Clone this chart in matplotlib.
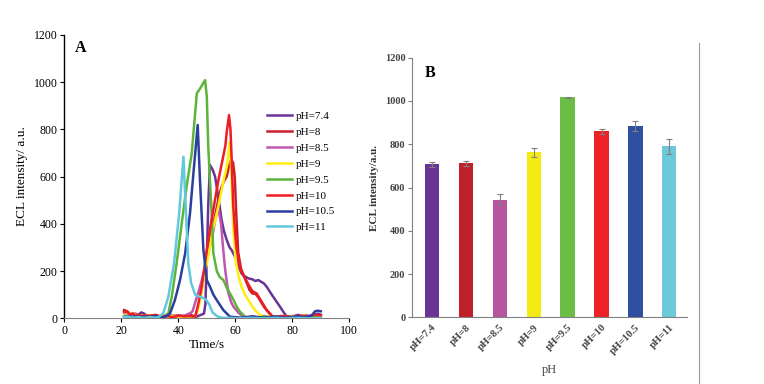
import matplotlib
matplotlib.use("Agg")
from matplotlib import pyplot as plt
from matplotlib.lines import Line2D

plt.rcParams['font.family'] = ['Liberation Serif', 'DejaVu Serif']

# ---- panel A: ECL traces ----
labels = ['pH=7.4', 'pH=8', 'pH=8.5', 'pH=9', 'pH=9.5', 'pH=10', 'pH=10.5', 'pH=11']
line_colors = ['#6A3398', '#C8202A', '#C056AE', '#FFEE10', '#5DB43A', '#EE1C24', '#2B3FA0', '#62C8DC']

t74 = [21, 22, 23, 24, 25, 26, 27, 28, 29, 30, 31, 32, 34, 36, 38, 40, 42, 43, 44, 45, 46, 47, 48, 49,
       49.5, 50, 50.5, 51.1, 52, 52.9, 54, 55.2, 56, 57, 58, 58.7, 59.5, 60.5, 61.3, 62.2, 63, 64.6, 66,
       67, 68.1, 69, 70, 71, 72, 73.3, 74.5, 75.7, 77, 78, 79, 80, 81, 82, 83, 84, 85, 86, 87, 88, 89, 90]
y74 = [30, 25, 15, 20, 10, 15, 25, 20, 10, 8, 12, 8, 5, 10, 8, 12, 10, 15, 20, 10, 5, 10, 15, 20,
       60, 250, 480, 649, 630, 600, 515, 416, 370, 331, 300, 289, 270, 247, 215, 190, 180, 169, 165,
       158, 162, 155, 148, 134, 115, 91, 70, 49, 25, 7, 5, 8, 10, 15, 10, 8, 12, 8, 10, 15, 20, 15]

t8 = [21, 22, 23, 24, 25, 26, 27, 28, 30, 32, 34, 36, 38, 40, 42, 44, 45, 46, 47, 48, 49, 50, 51, 52,
      53, 54, 55, 56, 57, 57.7, 58.5, 59.2, 59.8, 60.3, 61, 62, 63, 64, 65, 66, 67, 68, 69, 70, 71, 72,
      73, 74, 76, 78, 80, 82, 84, 86, 88, 90]
y8 = [35, 30, 20, 15, 20, 10, 15, 10, 12, 8, 10, 5, 12, 8, 10, 5, 5, 10, 50, 110, 180, 250, 320, 380,
      440, 500, 550, 580, 600, 640, 670, 660, 600, 450, 280, 210, 180, 150, 120, 105, 105, 90, 70, 50, 35, 20,
      8, 5, 8, 5, 10, 8, 12, 5, 15, 10]

t85 = [21, 22, 23, 24, 25, 26, 28, 30, 32, 34, 36, 38, 40, 42, 44, 45, 46, 47, 48, 49, 50, 51, 52, 53,
       54, 55, 55.7, 56.4, 57.5, 58.5, 59.3, 60, 61, 62, 63, 64, 66, 68, 70, 72, 74, 76, 78, 80, 82, 84,
       86, 88, 90]
y85 = [10, 15, 10, 20, 15, 10, 12, 8, 10, 5, 8, 10, 5, 10, 20, 30, 70, 110, 150, 200, 250, 300, 350, 420,
       470, 400, 300, 210, 110, 70, 50, 40, 25, 15, 8, 5, 8, 5, 10, 5, 8, 5, 10, 8, 12, 5, 10, 8, 5]

t9 = [21, 22, 23, 24, 25, 26, 28, 30, 32, 34, 36, 38, 40, 42, 44, 46, 47, 48, 48.8, 50, 51.1, 52, 53.5,
      54.5, 55.2, 56, 57, 57.6, 58.1, 58.7, 59.3, 60, 60.5, 61.3, 62.2, 63.4, 64.6, 66, 66.9, 68.7, 70,
      72, 74, 76, 78, 80, 82, 84, 86, 88, 90]
y9 = [10, 15, 20, 10, 15, 8, 12, 10, 5, 8, 5, 10, 8, 5, 8, 10, 40, 100, 162, 230, 303, 370, 444,
      500, 543, 590, 642, 700, 747, 585, 374, 260, 218, 170, 134, 100, 77, 50, 35, 14, 5,
      8, 5, 10, 5, 8, 5, 10, 8, 5, 8]

t95 = [21, 22, 23, 24, 25, 26, 28, 30, 32, 34, 35, 36.5, 37.7, 39.4, 41.2, 42.9, 44.7, 45.9, 46.5, 47.5,
       48.5, 49.4, 50, 50.5, 51.7, 52.3, 53.5, 54.5, 55.8, 57, 58.1, 59.3, 60.5, 61.5, 62.8, 64, 66, 68,
       70, 72, 74, 76, 78, 80, 82, 84, 86, 88, 90]
y95 = [8, 12, 5, 10, 8, 5, 10, 5, 8, 5, 10, 21, 91, 233, 402, 557, 698, 868, 952, 970,
       990, 1008, 938, 726, 444, 275, 200, 175, 162, 130, 106, 80, 49, 30, 14, 3, 5, 3, 8,
       5, 3, 5, 8, 5, 3, 5, 8, 5, 3]

t10 = [21, 22, 23, 24, 25, 26, 27, 28, 30, 32, 34, 36, 38, 40, 42, 44, 46, 47, 48, 49, 50, 51, 52, 53,
       54, 55, 56, 56.5, 57, 57.8, 58.3, 58.7, 59.3, 60, 60.5, 61.6, 62.5, 63.4, 65, 66, 67.5, 69, 70,
       71, 72.2, 73, 74, 76, 78, 80, 82, 84, 86, 88, 90]
y10 = [25, 30, 15, 20, 10, 15, 8, 12, 10, 15, 8, 10, 5, 12, 8, 10, 10, 60, 120, 200, 290, 370, 440, 510,
       580, 640, 700, 730, 790, 860, 800, 680, 470, 350, 290, 220, 190, 170, 135, 115, 105, 75, 55,
       35, 20, 8, 5, 10, 8, 5, 12, 8, 10, 15, 12]

t105 = [21, 22, 23, 24, 25, 26, 28, 30, 32, 34, 35, 36, 37.1, 38.8, 40.6, 42.4, 44.1, 45.3, 46.8, 47.6,
        48.8, 50, 51.1, 52.3, 53.5, 55.8, 58.1, 60, 62, 64, 66, 68, 70, 72, 74, 76, 78, 80, 82, 84, 86,
        87, 88, 89, 90]
y105 = [5, 10, 8, 5, 10, 5, 8, 5, 10, 5, 5, 10, 21, 77, 162, 275, 444, 614, 818, 585,
        290, 162, 134, 100, 77, 35, 7, 5, 3, 5, 8, 5, 3, 5, 8, 5, 3, 5, 10, 5, 8,
        15, 30, 32, 30]

t11 = [21, 22, 24, 26, 28, 30, 32, 33, 34.7, 36.5, 38.5, 40.3, 41.8, 42.7, 43.5, 44.5, 45.9, 47.6, 49,
       50, 51, 52, 53.5, 55, 58, 62, 66, 70, 74, 78, 82, 86, 90]
y11 = [5, 8, 3, 5, 2, 5, 3, 5, 21, 91, 233, 444, 684, 444, 233, 150, 100, 91, 85,
       75, 55, 25, 10, 3, 2, 0, 2, 0, 2, 0, 2, 0, 2]

traces = [(t74, y74), (t8, y8), (t85, y85), (t9, y9), (t95, y95), (t10, y10), (t105, y105), (t11, y11)]

# ---- panel B: bar chart ----
bar_values = [707, 712, 544, 762, 1018, 860, 884, 790]
bar_errors = [12, 11, 27, 20, 2, 12, 25, 35]
bar_colors = ['#6A3494', '#C0202A', '#B7559E', '#F3EB14', '#6BBD45', '#EC2227', '#2F50A0', '#6BC9DA']

fig = plt.figure(figsize=(7.64, 3.84), dpi=100)

axA = fig.add_axes([0.0842, 0.171, 0.373, 0.7385])
for (t, y), lab, col in zip(traces, labels, line_colors):
    axA.plot(t, y, color=col, linewidth=1.8, label=lab)
axA.set_xlim(0, 100)
axA.set_ylim(0, 1200)
axA.set_xticks([0, 20, 40, 60, 80, 100])
axA.set_yticks([0, 200, 400, 600, 800, 1000, 1200])
axA.spines['top'].set_visible(False)
axA.spines['right'].set_visible(False)
axA.spines['bottom'].set_color('#808080')
axA.spines['left'].set_linewidth(1.0)
axA.tick_params(direction='out', length=3, labelsize=8.5, pad=2)
axA.set_xlabel('Time/s', fontsize=9.5, labelpad=1)
axA.set_ylabel('ECL intensity/ a.u.', fontsize=9.5, labelpad=4)
axA.text(0.038, 0.953, 'A', transform=axA.transAxes, fontsize=11.5, fontweight='bold',
         va='center', ha='left')
axA.legend(loc='upper left', bbox_to_anchor=(0.71, 0.73), frameon=False, fontsize=8,
           handlelength=2.3, handletextpad=0.3, labelspacing=0.55, borderpad=0, borderaxespad=0)

axB = fig.add_axes([0.5397, 0.1737, 0.359, 0.676])
x = list(range(len(labels)))
axB.bar(x, bar_values, width=0.42, color=bar_colors, yerr=bar_errors, capsize=2.5,
        error_kw=dict(ecolor='#808080', elinewidth=0.8, capthick=0.8))
axB.set_xlim(-0.58, len(labels) - 0.49)
axB.set_ylim(0, 1200)
axB.set_yticks([0, 200, 400, 600, 800, 1000, 1200])
axB.set_xticks(x)
axB.set_xticklabels(labels, rotation=45, ha='right', rotation_mode='anchor')
for s in ['top', 'right']:
    axB.spines[s].set_visible(False)
for s in ['left', 'bottom']:
    axB.spines[s].set_color('#808080')
axB.tick_params(axis='y', direction='out', length=3, labelsize=7.5, colors='#808080',
                labelcolor='#444444', pad=2)
axB.tick_params(axis='x', length=0, labelsize=7.5, labelcolor='#444444', pad=4)
for lbl in axB.get_xticklabels() + axB.get_yticklabels():
    lbl.set_fontweight('bold')
axB.set_xlabel('pH', fontsize=9, color='#444444', labelpad=6)
axB.set_ylabel('ECL intensity/a.u.', fontsize=8, color='#333333', fontweight='bold', labelpad=4)
axB.text(0.046, 0.941, 'B', transform=axB.transAxes, fontsize=11.5, fontweight='bold',
         va='center', ha='left')

fig.add_artist(Line2D([0.9153, 0.9153], [0.0, 0.888], transform=fig.transFigure,
                      color='#999999', linewidth=0.8))

fig.savefig('out.png', dpi=100)
